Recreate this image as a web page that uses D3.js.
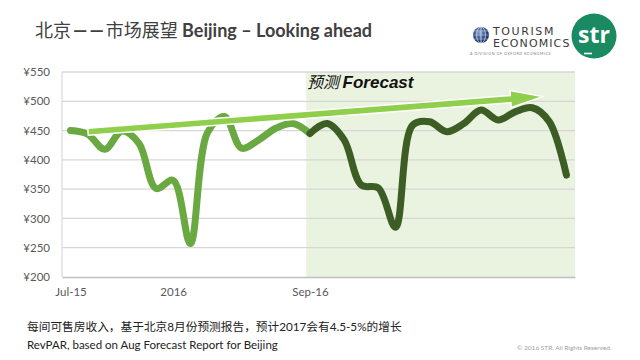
<!DOCTYPE html>
<html><head><meta charset="utf-8">
<script src="https://cdn.jsdelivr.net/npm/d3@7"></script>
<style>
html,body{margin:0;padding:0;background:#fff;}
svg{display:block;}
</style></head>
<body><svg id="c" width="640" height="360"></svg>
<script>
// ---- data ----
const months = ["Jul-15","Aug-15","Sep-15","Oct-15","Nov-15","Dec-15","Jan-16","Feb-16","Mar-16","Apr-16","May-16","Jun-16","Jul-16","Aug-16","Sep-16",
  "Oct-16","Nov-16","Dec-16","Jan-17","Feb-17","Mar-17","Apr-17","May-17","Jun-17","Jul-17","Aug-17","Sep-17","Oct-17","Nov-17","Dec-17"];
const actualValues = [450,444,418,449,428,351,365,257,446,474,420,434,454,462,445];
const forecastValues = [445,462,434,357,352,285,459,465,448,462,485,468,482,489,465,374];
const forecastStartIndex = 14;
const yTicks = [200,250,300,350,400,450,500,550];
const xTickIndex = [0,6,14];
const xTickLabels = ["Jul-15","2016","Sep-16"];
const trendArrow = [{i:1.02, v:448},{i:27.6, v:508}];
const forecastShadeFrom = 13.78;

const svg = d3.select("#c");
const L=62, R=575, T=72, B=277;
const x = d3.scaleLinear().domain([-0.5, months.length-0.5]).range([L,R]);
const y = d3.scaleLinear().domain([200,550]).range([B,T]);
const latin = "Lato, 'Noto Sans', 'Noto Sans CJK SC', sans-serif";
const cjk = "Lato, 'Noto Sans CJK SC', sans-serif";

// title
const title = svg.append("text").attr("x",35).attr("y",37).attr("fill","#404040").attr("font-size",18).attr("font-family",cjk);
title.append("tspan").attr("font-family","'Noto Sans CJK SC'").text("北京");
title.append("tspan").attr("font-family","Lato").attr("font-weight","bold").attr("dx",2).text("—");
title.append("tspan").attr("font-family","Lato").attr("font-weight","bold").attr("dx",2).text("—");
title.append("tspan").attr("font-family","'Noto Sans CJK SC'").attr("dx",2).text("市场展望");
title.append("tspan").attr("font-weight","bold").text(" Beijing – Looking ahead");

// forecast shade
svg.append("rect").attr("x",x(forecastShadeFrom)).attr("y",T).attr("width",R-x(forecastShadeFrom)).attr("height",B-T).attr("fill","#e9f3e0");

// grid
svg.append("g").selectAll("line").data(yTicks.filter(d=>d>200)).join("line")
  .attr("x1",L).attr("x2",R).attr("y1",d=>y(d)).attr("y2",d=>y(d)).attr("stroke","#d6d6d6").attr("stroke-width",1.3);
svg.append("line").attr("x1",L).attr("x2",L).attr("y1",T).attr("y2",B).attr("stroke","#d9d9d9").attr("stroke-width",1.2);

// y axis
const ya = svg.append("g").attr("transform",`translate(${L},0)`).call(d3.axisLeft(y).tickValues(yTicks).tickSize(0).tickPadding(12).tickFormat(d=>"¥"+d));
ya.select(".domain").remove();
ya.selectAll("text").attr("font-family",latin).attr("font-size",11.5).attr("fill","#595959");

// x axis
const xa = svg.append("g").attr("transform",`translate(0,${B})`).call(d3.axisBottom(x).tickValues(xTickIndex).tickSize(0).tickPadding(11).tickFormat((d,i)=>xTickLabels[i]));
xa.select(".domain").attr("stroke","#bfbfbf").attr("stroke-width",1.5);
xa.selectAll("text").attr("font-family",latin).attr("font-size",11.5).attr("fill","#595959");

// lines
const line = d3.line().x(d=>x(d.i)).y(d=>y(d.v)).curve(d3.curveCatmullRom.alpha(0.5));
const act = actualValues.map((v,i)=>({i,v}));
const fc = forecastValues.map((v,k)=>({i:forecastStartIndex+k,v}));
svg.append("path").datum(act).attr("d",line).attr("fill","none").attr("stroke","#6aa842").attr("stroke-width",7).attr("stroke-linecap","round").attr("stroke-linejoin","round");
svg.append("path").datum(fc).attr("d",line).attr("fill","none").attr("stroke","#3c5e24").attr("stroke-width",7).attr("stroke-linecap","round").attr("stroke-linejoin","round");

// trend arrow
(function(){
  const x0=x(trendArrow[0].i), y0=y(trendArrow[0].v), x1=x(trendArrow[1].i), y1=y(trendArrow[1].v);
  const dx=x1-x0, dy=y1-y0, len=Math.hypot(dx,dy), ux=dx/len, uy=dy/len, nx=-uy, ny=ux;
  const sw=3.6, hw=8.5, hl=32;
  const bx=x1-ux*hl, by=y1-uy*hl;
  const pts=[[x0+nx*sw,y0+ny*sw],[bx+nx*sw,by+ny*sw],[bx+nx*hw,by+ny*hw],[x1,y1],[bx-nx*hw,by-ny*hw],[bx-nx*sw,by-ny*sw],[x0-nx*sw,y0-ny*sw]];
  svg.append("polygon").attr("points",pts.map(p=>p.join(",")).join(" ")).attr("fill","#8fcf4c").attr("stroke","#fff").attr("stroke-width",1.5).attr("stroke-linejoin","miter");
})();

// forecast label
const fl = svg.append("text").attr("x",307).attr("y",88).attr("font-size",17).attr("font-style","italic").attr("fill","#111").attr("font-family","'Liberation Sans', Arial, 'Noto Sans CJK SC', sans-serif");
fl.append("tspan").attr("font-family","'Noto Sans CJK SC'").attr("font-size",16).text("预测 ");
fl.append("tspan").attr("font-weight","bold").text("Forecast");

// footer
svg.append("text").attr("x",27).attr("y",331).attr("font-size",11.7).attr("fill","#222").attr("font-family",cjk).text("每间可售房收入，基于北京8月份预测报告，预计2017会有4.5-5%的增长");
svg.append("text").attr("x",27).attr("y",349).attr("font-size",11.5).attr("fill","#222").attr("font-family",latin).text("RevPAR, based on Aug Forecast Report for Beijing");
svg.append("text").attr("x",517).attr("y",350).attr("font-size",6.5).attr("fill","#a0a0a0").attr("font-family",latin).text("© 2016 STR. All Rights Reserved.");

// Tourism Economics logo
const g = svg.append("g");
const grad = svg.append("defs").append("radialGradient").attr("id","gl").attr("cx","40%").attr("cy","35%").attr("r","70%");
grad.append("stop").attr("offset","0%").attr("stop-color","#8fa6c9");
grad.append("stop").attr("offset","60%").attr("stop-color","#2c4a84");
grad.append("stop").attr("offset","100%").attr("stop-color","#16254d");
g.append("circle").attr("cx",481).attr("cy",35).attr("r",8).attr("fill","url(#gl)");
[-4,0,4].forEach(o=>g.append("line").attr("x1",473).attr("x2",489).attr("y1",35+o).attr("y2",35+o).attr("stroke","#c8d3e6").attr("stroke-width",0.5));
[-4,0,4].forEach(o=>g.append("ellipse").attr("cx",481).attr("cy",35).attr("rx",Math.abs(o)+0.5).attr("ry",8).attr("fill","none").attr("stroke","#c8d3e6").attr("stroke-width",0.5));
g.append("text").attr("x",493).attr("y",35).attr("font-size",11).attr("letter-spacing",1.6).attr("fill","#3a3a3a").attr("font-family","'DejaVu Sans', sans-serif").text("TOURISM");
g.append("text").attr("x",493).attr("y",47).attr("font-size",11).attr("letter-spacing",1.1).attr("fill","#3a3a3a").attr("font-family","'DejaVu Sans', sans-serif").text("ECONOMICS");
g.append("text").attr("x",470).attr("y",55).attr("font-size",3.6).attr("letter-spacing",0.6).attr("fill","#777").attr("font-family",latin).text("A DIVISION OF OXFORD ECONOMICS");

// STR logo
svg.append("circle").attr("cx",594).attr("cy",36).attr("r",22.5).attr("fill","#198a61");
svg.append("text").attr("x",594).attr("y",43).attr("text-anchor","middle").attr("font-size",23).attr("font-weight","bold").attr("fill","#fff").attr("font-family","'Open Sans', sans-serif").text("str");
svg.append("line").attr("x1",584).attr("x2",592).attr("y1",53.5).attr("y2",53.5).attr("stroke","#fff").attr("stroke-width",1.6);
</script></body></html>
